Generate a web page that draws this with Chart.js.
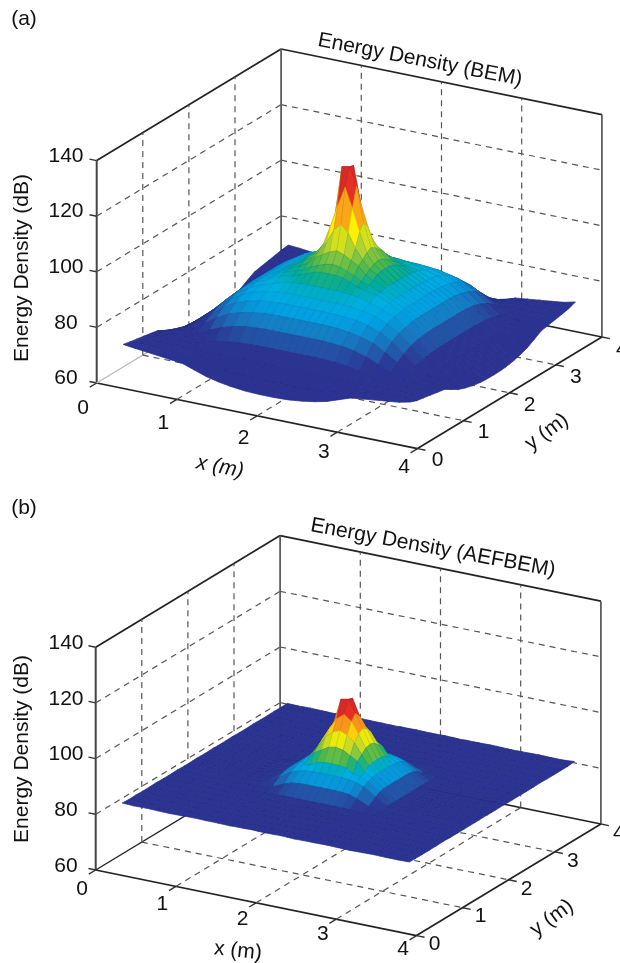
<!DOCTYPE html>
<html>
<head>
<meta charset="utf-8">
<style>
  body { margin: 0; background: #fff; }
  canvas { display: block; }
</style>
<script src="https://cdn.jsdelivr.net/npm/chart.js@4"></script>
</head>
<body>
<canvas id="panelA" width="620" height="482"></canvas>
<canvas id="panelB" width="620" height="481"></canvas>
<script>
const xTicks = [0, 1, 2, 3, 4];
const yTicks = [0, 1, 2, 3, 4];
const zTicks = [60, 80, 100, 120, 140];

const gridX = [0.21,0.35,0.5,0.65,0.8,0.95,1.1,1.25,1.4,1.55,1.64,1.73,1.82,1.91,2,2.09,2.18,2.27,2.36,2.45,2.6,2.75,2.9,3.05,3.2,3.35,3.5,3.65,3.79];
const gridY = [0.21,0.35,0.5,0.65,0.8,0.95,1.1,1.25,1.4,1.55,1.64,1.73,1.82,1.91,2,2.09,2.18,2.27,2.36,2.45,2.6,2.75,2.9,3.05,3.2,3.35,3.5,3.65,3.79];

// energy density in dB, one row per gridY value
const densityBEM = [
  [73,72.5,72,71.5,71,70.5,69,67.5,66.5,65.8,65.5,65.2,65.1,65,65,65,65.1,65.2,65.5,65.8,66.5,67.5,69,70.5,71,71.5,72,72.5,73.4],
  [72.5,72.7,72.5,72.5,72,71.5,70.5,69.5,69,68.8,68.6,68.5,68.5,68.5,68.5,68.5,68.5,68.5,68.6,68.8,69,69.5,70.5,71.5,72,72.5,72.5,72.7,72.5],
  [72,72.5,72.5,72.5,72.5,72.5,72.5,72.5,72.5,72.5,72.5,72.5,72.5,72.5,72.5,72.5,72.5,72.5,72.5,72.5,72.5,72.5,72.5,72.5,72.5,72.5,72.5,72.5,72],
  [71.5,72.5,72.5,72.5,72.5,73.6,74.9,75.7,76.2,76.4,76.5,76.5,76.5,76.5,76.5,76.5,76.5,76.5,76.5,76.4,76.2,75.7,74.9,73.6,72.5,72.5,72.5,72.5,71.5],
  [71,72,72.5,72.5,74.4,76.6,78.4,79.7,80.5,80.8,81,81,81,81,81,81,81,81,81,80.8,80.5,79.7,78.4,76.6,74.4,72.5,72.5,72,71],
  [70.5,71.5,72.5,73.6,76.6,79.5,81.8,83.2,84,84.6,84.7,84.8,84.8,84.8,84.8,84.8,84.8,84.8,84.7,84.6,84,83.2,81.8,79.5,76.6,73.6,72.5,71.5,70.5],
  [69,70.5,72.5,74.9,78.4,81.8,84.3,85.8,86.8,87.2,87.4,87.5,87.5,87.5,87.5,87.5,87.5,87.5,87.4,87.2,86.8,85.8,84.3,81.8,78.4,74.9,72.5,70.5,69],
  [67.5,69.5,72.5,75.7,79.7,83.2,85.8,87.6,88.6,89.2,89.3,89.5,89.5,89.5,89.5,89.5,89.5,89.5,89.3,89.2,88.6,87.6,85.8,83.2,79.7,75.7,72.5,69.5,67.5],
  [66.5,69,72.5,76.2,80.5,84,86.8,88.6,90,91.2,91.6,91.9,92,92,92,92,92,91.9,91.6,91.2,90,88.6,86.8,84,80.5,76.2,72.5,69,66.5],
  [65.8,68.8,72.5,76.4,80.8,84.6,87.2,89.2,91.2,92,93,94,95,95.5,95.5,95.5,95,94,93,92,91.2,89.2,87.2,84.6,80.8,76.4,72.5,68.8,65.8],
  [65.5,68.6,72.5,76.5,81,84.7,87.4,89.3,91.6,93,94,95.5,96.5,97.5,98,97.5,96.5,95.5,94,93,91.6,89.3,87.4,84.7,81,76.5,72.5,68.6,65.5],
  [65.2,68.5,72.5,76.5,81,84.8,87.5,89.5,91.9,94,95.5,98,99.5,101,102,101,99.5,98,95.5,94,91.9,89.5,87.5,84.8,81,76.5,72.5,68.5,65.2],
  [65.1,68.5,72.5,76.5,81,84.8,87.5,89.5,92,95,96.5,99.5,103,108,110.5,108,103,99.5,96.5,95,92,89.5,87.5,84.8,81,76.5,72.5,68.5,65.1],
  [65,68.5,72.5,76.5,81,84.8,87.5,89.5,92,95.5,97.5,101,108,116,123,116,108,101,97.5,95.5,92,89.5,87.5,84.8,81,76.5,72.5,68.5,65],
  [65,68.5,72.5,76.5,81,84.8,87.5,89.5,92,95.5,98,102,110.5,129,129.5,123,110.5,102,98,95.5,92,89.5,87.5,84.8,81,76.5,72.5,68.5,65],
  [65,68.5,72.5,76.5,81,84.8,87.5,89.5,92,95.5,97.5,101,108,116,129,116,108,101,97.5,95.5,92,89.5,87.5,84.8,81,76.5,72.5,68.5,65],
  [65.1,68.5,72.5,76.5,81,84.8,87.5,89.5,92,95,96.5,99.5,103,108,110.5,108,103,99.5,96.5,95,92,89.5,87.5,84.8,81,76.5,72.5,68.5,65.1],
  [65.2,68.5,72.5,76.5,81,84.8,87.5,89.5,91.9,94,95.5,98,99.5,101,102,101,99.5,98,95.5,94,91.9,89.5,87.5,84.8,81,76.5,72.5,68.5,65.2],
  [65.5,68.6,72.5,76.5,81,84.7,87.4,89.3,91.6,93,94,95.5,96.5,97.5,98,97.5,96.5,95.5,94,93,91.6,89.3,87.4,84.7,81,76.5,72.5,68.6,65.5],
  [65.8,68.8,72.5,76.4,80.8,84.6,87.2,89.2,91.2,92,93,94,95,95.5,95.5,95.5,95,94,93,92,91.2,89.2,87.2,84.6,80.8,76.4,72.5,68.8,65.8],
  [66.5,69,72.5,76.2,80.5,84,86.8,88.6,90,91.2,91.6,91.9,92,92,92,92,92,91.9,91.6,91.2,90,88.6,86.8,84,80.5,76.2,72.5,69,66.5],
  [67.5,69.5,72.5,75.7,79.7,83.2,85.8,87.6,88.6,89.2,89.3,89.5,89.5,89.5,89.5,89.5,89.5,89.5,89.3,89.2,88.6,87.6,85.8,83.2,79.7,75.7,72.5,69.5,67.5],
  [69,70.5,72.5,74.9,78.4,81.8,84.3,85.8,86.8,87.2,87.4,87.5,87.5,87.5,87.5,87.5,87.5,87.5,87.4,87.2,86.8,85.8,84.3,81.8,78.4,74.9,72.5,70.5,69],
  [70.5,71.5,72.5,73.6,76.6,79.5,81.8,83.2,84,84.6,84.7,84.8,84.8,84.8,84.8,84.8,84.8,84.8,84.7,84.6,84,83.2,81.8,79.5,76.6,73.6,72.5,71.5,70.5],
  [71,72,72.5,72.5,74.4,76.6,78.4,79.7,80.5,80.8,81,81,81,81,81,81,81,81,81,80.8,80.5,79.7,78.4,76.6,74.4,72.5,72.5,72,71],
  [71.5,72.5,72.5,72.5,72.5,73.6,74.9,75.7,76.2,76.4,76.5,76.5,76.5,76.5,76.5,76.5,76.5,76.5,76.5,76.4,76.2,75.7,74.9,73.6,72.5,72.5,72.5,72.5,71.5],
  [72,72.5,72.5,72.5,72.5,72.5,72.5,72.5,72.5,72.5,72.5,72.5,72.5,72.5,72.5,72.5,72.5,72.5,72.5,72.5,72.5,72.5,72.5,72.5,72.5,72.5,72.5,72.5,72],
  [72.5,72.7,72.5,72.5,72,71.5,70.5,69.5,69,68.8,68.6,68.5,68.5,68.5,68.5,68.5,68.5,68.5,68.6,68.8,69,69.5,70.5,71.5,72,72.5,72.5,72.7,72.5],
  [72.8,72.5,72,71.5,71,70.5,69,67.5,66.5,65.8,65.5,65.2,65.1,65,65,65,65.1,65.2,65.5,65.8,66.5,67.5,69,70.5,71,71.5,72,72.5,73.5]
];

// same grid
const densityAEFBEM = [
  [83.2,83,83.1,83,82.9,83,83.1,83,83,82.9,83,83,83.1,83,83,83,83.1,83,82.9,83,83,83.1,83,82.9,83,83.1,83,83,83.1],
  [83,83.1,83,82.9,83,83.1,83,83,82.9,83,83.1,83,83,83,83,83,83,83.1,83,83,82.9,83,83,83.1,83,82.9,83,83.1,83],
  [83.1,83,82.9,83,83.1,83,83,83.1,83,83,83,83.1,83,83,83,83,83,83,83.1,83,83,83.1,83,83,83.1,83,82.9,83,83],
  [83,82.9,83,83.1,83,83,83.1,83,83,83,83,83,83,83,83,83,83,83,83,83,83,83,83.1,83,83,83.1,83,82.9,83],
  [83,83,83.1,83,83,83,83,83,83,83,83,83,83,83,83,83,83,83,83,83,83,83,83,83,83,83,83.1,83,83],
  [83.1,83,83,83,83.1,83,83,83,83,83,83,83,83,83,83,83,83,83,83,83,83,83,83,83,83.1,83,83,83,83.1],
  [83,83,83.1,83,83,83,83,83,83.1,83.1,83.1,83.1,83.1,83.1,83.1,83.1,83.1,83.1,83.1,83.1,83.1,83,83,83,83,83,83.1,83,83],
  [83,83.1,83,83,83,83,83,83.1,83.3,83.5,83.6,83.6,83.6,83.6,83.6,83.6,83.6,83.6,83.6,83.5,83.3,83.1,83,83,83,83,83,83.1,83],
  [83.1,83,83,83,83,83,83.1,83.3,84.1,86,86.9,87.2,87.3,87.3,87.3,87.3,87.3,87.2,86.9,86,84.1,83.3,83.1,83,83,83,83,83,83],
  [83,83,83.1,83,83,83,83.1,83.5,86,88.8,89.7,90.2,90.4,90.5,90.5,90.5,90.4,90.2,89.7,88.8,86,83.5,83.1,83,83,83,83.1,83,83],
  [83,83,83,83,83.1,83,83.1,83.6,86.9,89.7,91,91.5,93,93.4,93.5,93.4,93,91.5,91,89.7,86.9,83.6,83.1,83,83.1,83,83,83,83],
  [83,83.1,83,83,83,83,83.1,83.6,87.2,90.2,91.5,95,96.5,98,98.5,98,96.5,95,91.5,90.2,87.2,83.6,83.1,83,83,83,83,83.1,83],
  [83.1,83,83,83,83,83,83.1,83.6,87.3,90.4,93,96.5,100.3,102.5,103.5,102.5,100.3,96.5,93,90.4,87.3,83.6,83.1,83,83,83,83,83,83.1],
  [83,83,83,83.1,83,83,83.1,83.6,87.3,90.5,93.4,98,102.5,106.5,108.5,106.5,102.5,98,93.4,90.5,87.3,83.6,83.1,83,83,83.1,83,83,83],
  [83,83,83.1,83,83,83,83.1,83.6,87.3,90.5,93.5,98.5,103.5,112.5,113,108.5,103.5,98.5,93.5,90.5,87.3,83.6,83.1,83,83,83,83.1,83,83],
  [83,83,83,83.1,83,83,83.1,83.6,87.3,90.5,93.4,98,102.5,106.5,112.5,106.5,102.5,98,93.4,90.5,87.3,83.6,83.1,83,83,83.1,83,83,83],
  [83.1,83,83,83,83,83,83.1,83.6,87.3,90.4,93,96.5,100.3,102.5,103.5,102.5,100.3,96.5,93,90.4,87.3,83.6,83.1,83,83,83,83,83,83.1],
  [83,83.1,83,83,83,83,83.1,83.6,87.2,90.2,91.5,95,96.5,98,98.5,98,96.5,95,91.5,90.2,87.2,83.6,83.1,83,83,83,83,83.1,83],
  [83,83,83,83,83.1,83,83.1,83.6,86.9,89.7,91,91.5,93,93.4,93.5,93.4,93,91.5,91,89.7,86.9,83.6,83.1,83,83.1,83,83,83,83],
  [83,83,83.1,83,83,83,83.1,83.5,86,88.8,89.7,90.2,90.4,90.5,90.5,90.5,90.4,90.2,89.7,88.8,86,83.5,83.1,83,83,83,83.1,83,83],
  [83.1,83,83,83,83,83,83.1,83.3,84.1,86,86.9,87.2,87.3,87.3,87.3,87.3,87.3,87.2,86.9,86,84.1,83.3,83.1,83,83,83,83,83,83],
  [83,83.1,83,83,83,83,83,83.1,83.3,83.5,83.6,83.6,83.6,83.6,83.6,83.6,83.6,83.6,83.6,83.5,83.3,83.1,83,83,83,83,83,83.1,83],
  [83,83,83.1,83,83,83,83,83,83.1,83.1,83.1,83.1,83.1,83.1,83.1,83.1,83.1,83.1,83.1,83.1,83.1,83,83,83,83,83,83.1,83,83],
  [83.1,83,83,83,83.1,83,83,83,83,83,83,83,83,83,83,83,83,83,83,83,83,83,83,83,83.1,83,83,83,83.1],
  [83,83,83.1,83,83,83,83,83,83,83,83,83,83,83,83,83,83,83,83,83,83,83,83,83,83,83,83.1,83,83],
  [83,82.9,83,83.1,83,83,83.1,83,83,83,83,83,83,83,83,83,83,83,83,83,83,83,83.1,83,83,83.1,83,82.9,83],
  [83.1,83,82.9,83,83.1,83,83,83.1,83,83,83,83.1,83,83,83,83,83,83,83.1,83,83,83.1,83,83,83.1,83,82.9,83,83],
  [83,83.1,83,82.9,83,83.1,83,83,82.9,83,83.1,83,83,83,83,83,83,83.1,83,83,82.9,83,83,83.1,83,82.9,83,83.1,83],
  [83.1,83,83.1,83,82.9,83,83.1,83,83,82.9,83,83,83.1,83,83,83,83.1,83,82.9,83,83,83.1,83,82.9,83,83.1,83,83,83.3]
];

// colormap of the printed figure, low to high
const mapStops = [0, 0.17, 0.25, 0.33, 0.38, 0.43, 0.49, 0.57, 0.67, 0.74, 0.80, 0.88, 1];
const mapColors = [
  [43, 49, 146], [43, 53, 146], [27, 111, 186], [0, 164, 228], [0, 174, 224], [0, 172, 154],
  [76, 184, 76], [166, 206, 57], [255, 242, 0], [253, 185, 19], [245, 130, 32], [238, 49, 36], [166, 25, 46]
];

function colorFor(f) {
  f = Math.min(1, Math.max(0, f));
  let i = 0;
  while (i < mapStops.length - 2 && f > mapStops[i + 1]) i++;
  const t = (f - mapStops[i]) / (mapStops[i + 1] - mapStops[i]);
  const c = mapColors[i].map((v, k) => Math.round(v + (mapColors[i + 1][k] - v) * t));
  return "rgb(" + c.join(",") + ")";
}

function buildDatasets(p, rows) {
  const project = (x, y, z) => ({
    x: p.ox + 80.2 * x + 46.1 * y,
    y: p.oy + 16.4 * x - 27.9 * y - p.k * (z - 60),
  });
  const seg = (a, b, color, width, dash) => ({
    data: [project(...a), project(...b)],
    showLine: true,
    pointRadius: 0,
    borderColor: color,
    borderWidth: width,
    borderDash: dash || [],
  });

  const faces = [];
  for (let j = 0; j < gridY.length - 1; j++) {
    for (let i = 0; i < gridX.length - 1; i++) {
      const z = [rows[j][i], rows[j][i + 1], rows[j + 1][i + 1], rows[j + 1][i]];
      const mean = (z[0] + z[1] + z[2] + z[3]) / 4;
      const cx = (gridX[i] + gridX[i + 1]) / 2;
      const cy = (gridY[j] + gridY[j + 1]) / 2;
      faces.push({
        depth: 16.4 * cx - 27.9 * cy,
        data: [
          project(gridX[i], gridY[j], z[0]),
          project(gridX[i + 1], gridY[j], z[1]),
          project(gridX[i + 1], gridY[j + 1], z[2]),
          project(gridX[i], gridY[j + 1], z[3]),
          project(gridX[i], gridY[j], z[0]),
        ],
        showLine: true,
        pointRadius: 0,
        borderColor: "rgba(0,0,40,0.16)",
        borderWidth: 0.5,
        faceColor: colorFor((mean - p.zLow) / (p.zHigh - p.zLow)),
      });
    }
  }
  // first dataset is painted last, so nearest faces go first
  faces.sort((a, b) => b.depth - a.depth);

  const lines = [];
  const dash = [6, 5];
  const gray = "#555";
  zTicks.slice(1, -1).forEach((z) => {
    lines.push(seg([0, 0, z], [0, 4, z], gray, 1.2, dash));
    lines.push(seg([0, 4, z], [4, 4, z], gray, 1.2, dash));
  });
  [1, 2, 3].forEach((t) => {
    lines.push(seg([0, t, 60], [0, t, 140], gray, 1.2, dash));
    lines.push(seg([t, 4, 60], [t, 4, 140], gray, 1.2, dash));
    lines.push(seg([t, 0, 60], [t, 4, 60], gray, 1.2, dash));
    lines.push(seg([0, t, 60], [4, t, 60], gray, 1.2, dash));
  });
  lines.push(seg([0, 0, 60], [0, 4, 60], p.floorEdge, 1.4));
  lines.push(seg([0, 4, 60], [4, 4, 60], "#222", 1.6));
  lines.push(seg([0, 0, 60], [0, 0, 140], "#444", 2));
  lines.push(seg([0, 4, 60], [0, 4, 140], "#555", 1.7));
  lines.push(seg([4, 4, 60], [4, 4, 140], "#555", 1.7));
  lines.push(seg([0, 0, 140], [0, 4, 140], "#222", 1.7));
  lines.push(seg([0, 4, 140], [4, 4, 140], "#222", 1.7));
  lines.push(seg([0, 0, 60], [4, 0, 60], "#222", 1.7));
  lines.push(seg([4, 0, 60], [4, 4, 60], "#222", 1.7));
  zTicks.forEach((z) => lines.push(seg([0, 0, z], [-0.09, 0, z], "#333", 1.4)));
  xTicks.forEach((x) => lines.push(seg([x, 0, 60], [x, -0.15, 60], "#333", 1.4)));
  yTicks.forEach((y) => lines.push(seg([4, y, 60], [4.1, y, 60], "#333", 1.4)));

  return { datasets: faces.concat(lines), project };
}

const surfaceFill = {
  id: "surfaceFill",
  beforeDatasetDraw(chart, args) {
    const ds = chart.data.datasets[args.index];
    if (!ds.faceColor) return;
    const pts = args.meta.data;
    const ctx = chart.ctx;
    ctx.save();
    ctx.beginPath();
    pts.forEach((pt, n) => (n ? ctx.lineTo(pt.x, pt.y) : ctx.moveTo(pt.x, pt.y)));
    ctx.closePath();
    ctx.fillStyle = ds.faceColor;
    ctx.strokeStyle = ds.faceColor;
    ctx.lineWidth = 0.7;
    ctx.fill();
    ctx.stroke();
    ctx.restore();
  },
};

function makePanel(id, p, rows) {
  const built = buildDatasets(p, rows);
  const axisText = {
    id: "axisText",
    afterDatasetsDraw(chart) {
      const ctx = chart.ctx;
      const sx = chart.scales.x;
      const sy = chart.scales.y;
      const put = (text, x, y, angle, font) => {
        ctx.save();
        ctx.translate(sx.getPixelForValue(x), sy.getPixelForValue(y));
        ctx.rotate((angle * Math.PI) / 180);
        ctx.font = font || "21px 'Liberation Sans', Arial, sans-serif";
        ctx.fillStyle = "#111";
        ctx.textAlign = "center";
        ctx.textBaseline = "middle";
        ctx.fillText(text, 0, 0);
        ctx.restore();
      };
      put(p.letter, 24, p.letterY, 0);
      put(p.title, p.titleX, p.titleY, p.titleAngle);
      put("Energy Density (dB)", 22, p.zLabelY, -90);
      put("x (m)", p.xLabelX, p.xLabelY, p.xLabelAngle, p.xLabelFont);
      put("y (m)", p.yLabelX, p.yLabelY, -36);
      zTicks.forEach((z) => {
        const a = built.project(0, 0, z);
        put(String(z), 66, a.y + p.zTickDy, 0);
      });
      xTicks.forEach((x) => {
        const a = built.project(x, 0, 60);
        put(String(x), a.x - 13.5, a.y + p.xTickDy - 1.5 * x, 0);
      });
      yTicks.forEach((y) => {
        const a = built.project(4, y, 60);
        put(String(y), a.x + p.yTickDx, a.y + p.yTickDy, 0);
      });
    },
  };

  new Chart(document.getElementById(id), {
    type: "scatter",
    data: { datasets: built.datasets },
    options: {
      responsive: false,
      animation: false,
      events: [],
      layout: { padding: 0 },
      plugins: { legend: { display: false }, tooltip: { enabled: false } },
      scales: {
        x: { type: "linear", min: 0, max: 620, display: false },
        y: { type: "linear", min: p.top, max: p.bottom, reverse: true, display: false },
      },
    },
    plugins: [surfaceFill, axisText],
  });
}

makePanel("panelA", {
  top: 0, bottom: 482, ox: 96.7, oy: 383, k: 2.78, zLow: 65, zHigh: 130,
  floorEdge: "#bbb", letter: "(a)", letterY: 19,
  title: "Energy Density (BEM)", titleX: 420, titleY: 60, titleAngle: 11,
  zLabelY: 268, xLabelX: 220, xLabelY: 467, xLabelAngle: 11,
  xLabelFont: "italic 21px 'Liberation Sans', Arial, sans-serif",
  yLabelX: 547, yLabelY: 432,
  zTickDy: -4.5, xTickDy: 25, yTickDx: 20, yTickDy: 12,
}, densityBEM);

makePanel("panelB", {
  top: 482, bottom: 963, ox: 95.7, oy: 870, k: 2.785, zLow: 78, zHigh: 113,
  floorEdge: "#222", letter: "(b)", letterY: 508,
  title: "Energy Density (AEFBEM)", titleX: 433, titleY: 548, titleAngle: 10.5,
  zLabelY: 749, xLabelX: 238, xLabelY: 951, xLabelAngle: 6,
  xLabelFont: "21px 'Liberation Sans', Arial, sans-serif",
  yLabelX: 552, yLabelY: 918,
  zTickDy: -4, xTickDy: 19.5, yTickDx: 18, yTickDy: 9,
}, densityAEFBEM);
</script>
</body>
</html>
